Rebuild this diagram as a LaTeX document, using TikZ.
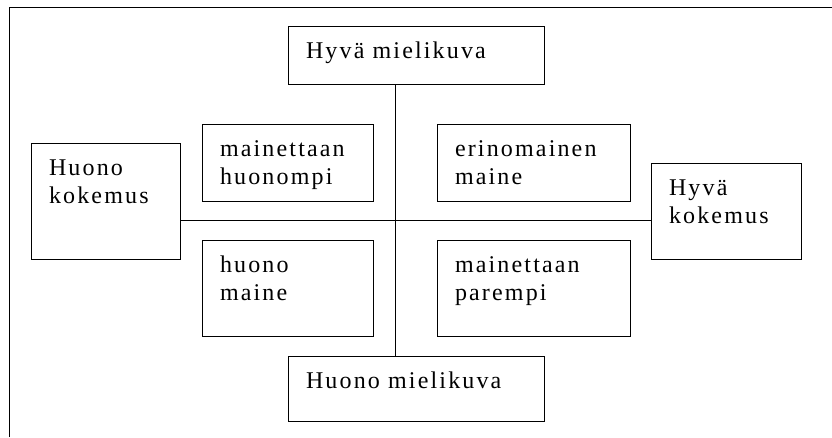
\documentclass[tikz,border=0pt]{standalone}
\usepackage{fontspec}
\setmainfont[LetterSpace=9]{Liberation Serif}
\usepackage{tikz}

%text of a box: width, height, lines
\newcommand{\laatikkoteksti}[3]{\parbox[t][#2][t]{#1}{\leftskip=17.5pt\baselineskip=28pt\rule{0pt}{32pt}#3}}

\begin{document}
\begin{tikzpicture}[x=1pt, y=-1pt,
		laatikko/.style={draw, line width=1pt, inner sep=0pt, anchor=north west, font=\fontsize{24}{28}\selectfont}]
		\useasboundingbox (0,0) rectangle (832,437);
		
		%definition of crossing point
		\coordinate (risti) at (395,220);
		
		%frame
		\draw [line width=0.9pt] (9.5,437) -- (9.5,7) -- (832,7);
		
		%mielikuva boxes
		\node [laatikko] (hyvamieli) at (288,26) {\laatikkoteksti{256pt}{58pt}{Hyvä mielikuva}};
		\node [laatikko] (huonomieli) at (288,356) {\laatikkoteksti{256pt}{65pt}{Huono mielikuva}};
		
		%kokemus boxes
		\node [laatikko] (huonokok) at (31,143) {\laatikkoteksti{149pt}{116pt}{Huono\\kokemus}};
		\node [laatikko] (hyvakok) at (651,163) {\laatikkoteksti{150pt}{96pt}{Hyvä\\kokemus}};
		
		%maine boxes
		\node [laatikko] (huonompi) at (202,124) {\laatikkoteksti{171pt}{77pt}{mainettaan\\huonompi}};
		\node [laatikko] (erinom) at (437,124) {\laatikkoteksti{193pt}{77pt}{erinomainen\\maine}};
		\node [laatikko] (huonomaine) at (202,240) {\laatikkoteksti{171pt}{96pt}{huono\\maine}};
		\node [laatikko] (parempi) at (437,240) {\laatikkoteksti{193pt}{96pt}{mainettaan\\parempi}};
		
		%axes
		\draw [line width=0.9pt] (hyvamieli.south -| risti) -- (huonomieli.north -| risti);
		\draw [line width=0.9pt] (huonokok.east |- risti) -- (hyvakok.west |- risti);
		
	\end{tikzpicture}
\end{document}
